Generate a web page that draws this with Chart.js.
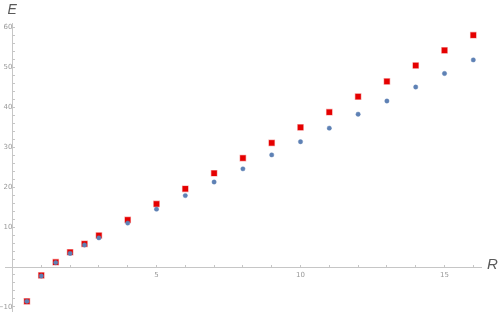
<!DOCTYPE html>
<html>
<head>
<meta charset="utf-8">
<script src="https://cdn.jsdelivr.net/npm/chart.js@4"></script>
<style>
html,body{margin:0;padding:0;background:#fff;}
#wrap{position:relative;width:498px;height:317px;}
</style>
</head>
<body>
<div id="wrap"><canvas id="c" width="498" height="317"></canvas></div>
<script>
const rValues = [0.5, 1, 1.5, 2, 2.5, 3, 4, 5, 6, 7, 8, 9, 10, 11, 12, 13, 14, 15, 16];
const redE = [-8.6, -2.1, 1.2, 3.7, 5.8, 7.9, 11.8, 15.8, 19.6, 23.5, 27.3, 31.1, 35.0, 38.8, 42.7, 46.5, 50.5, 54.3, 58.1];
const blueE = [-8.6, -2.25, 1.1, 3.4, 5.5, 7.3, 11.0, 14.5, 17.9, 21.3, 24.6, 28.1, 31.4, 34.8, 38.3, 41.6, 45.1, 48.5, 51.9];
const xTickLabels = [5, 10, 15];
const yTickLabels = [-10, 10, 20, 30, 40, 50, 60];
const axisLabels = {x: 'R', y: 'E'};

const toPts = (xs, ys) => xs.map((x, i) => ({x: x, y: ys[i]}));

const zeroPadding = (s) => { s.paddingTop = 0; s.paddingBottom = 0; s.paddingLeft = 0; s.paddingRight = 0; };

const axisLabelPlugin = {
  id: 'axisLabels',
  afterDraw(chart) {
    const ctx = chart.ctx;
    const xs = chart.scales.x, ys = chart.scales.y;
    ctx.save();
    ctx.fillStyle = '#5a5a5a';
    ctx.font = 'italic 15px "Liberation Sans", Arial, sans-serif';
    ctx.textAlign = 'left';
    ctx.textBaseline = 'middle';
    ctx.fillText(axisLabels.x, xs.right + 6, ys.getPixelForValue(0) - 2);
    ctx.font = 'italic 14px "Liberation Sans", Arial, sans-serif';
    ctx.textBaseline = 'alphabetic';
    ctx.fillText(axisLabels.y, xs.getPixelForValue(0) - 5, 14);
    ctx.restore();
  }
};

new Chart(document.getElementById('c'), {
  type: 'scatter',
  data: {
    datasets: [
      {
        label: 'blue',
        data: toPts(rValues, blueE),
        pointStyle: 'circle',
        pointRadius: 2.2,
        pointHoverRadius: 2.2,
        backgroundColor: '#5E81B5',
        borderColor: 'rgba(94,129,181,0.5)',
        borderWidth: 0.8
      },
      {
        label: 'red',
        data: toPts(rValues, redE),
        pointStyle: 'rect',
        pointRadius: 3.9,
        pointHoverRadius: 3.9,
        backgroundColor: '#E50000',
        borderColor: 'rgba(229,0,0,0.35)',
        borderWidth: 1.2
      }
    ]
  },
  options: {
    responsive: false,
    animation: false,
    layout: {padding: {left: 3, right: 17, top: 23, bottom: 2}},
    plugins: {legend: {display: false}, tooltip: {enabled: false}},
    scales: {
      x: {
        type: 'linear',
        position: {y: 0},
        min: -0.257,
        max: 16.267,
        afterFit: zeroPadding,
        border: {display: true, color: '#c6c6c6', width: 1},
        grid: {display: true, drawOnChartArea: false, drawTicks: true, tickLength: -3, color: '#c6c6c6', tickColor: '#c6c6c6'},
        ticks: {
          stepSize: 1,
          includeBounds: false,
          autoSkip: false,
          maxRotation: 0,
          padding: 7,
          color: '#999999',
          font: {size: 7, family: '"DejaVu Sans", sans-serif'},
          callback: (v) => xTickLabels.includes(v) ? String(v) : ''
        }
      },
      y: {
        type: 'linear',
        position: {x: 0},
        min: -11.25,
        max: 61.15,
        afterFit: zeroPadding,
        border: {display: true, color: '#c6c6c6', width: 1},
        grid: {display: true, drawOnChartArea: false, drawTicks: true, tickLength: -3, color: '#c6c6c6', tickColor: '#c6c6c6'},
        ticks: {
          stepSize: 2,
          includeBounds: false,
          autoSkip: false,
          padding: 4,
          color: '#999999',
          font: {size: 7, family: '"DejaVu Sans", sans-serif'},
          callback: (v) => yTickLabels.includes(v) ? (v < 0 ? '\u2212' + Math.abs(v) : String(v)) : ''
        }
      }
    }
  },
  plugins: [axisLabelPlugin]
});
</script>
</body>
</html>
